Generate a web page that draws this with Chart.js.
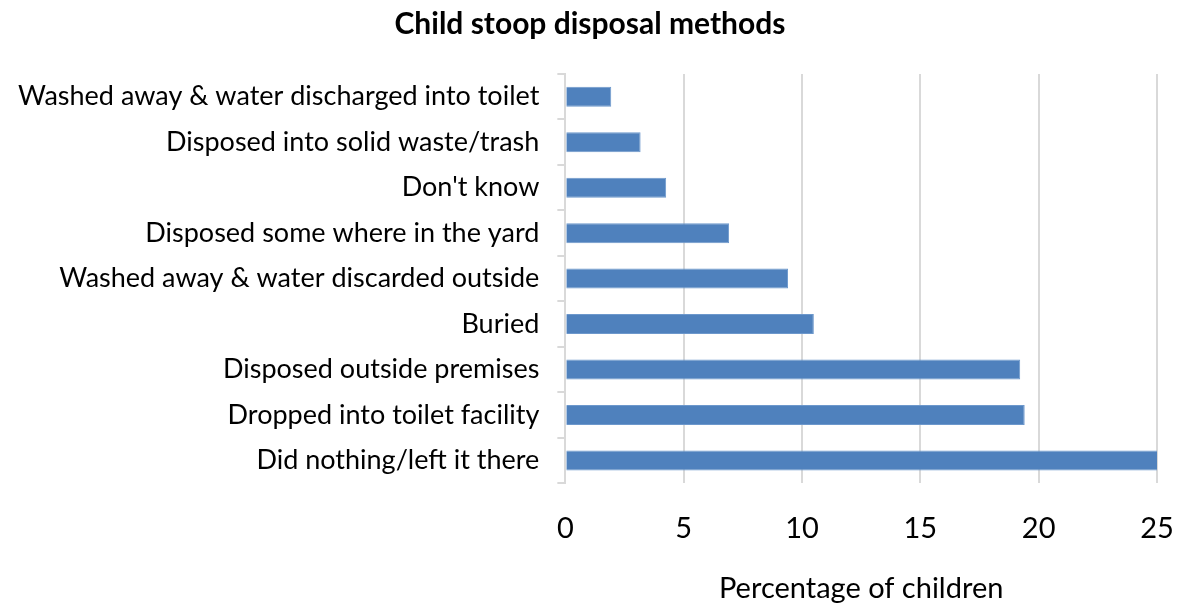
<!DOCTYPE html>
<html>
<head>
<meta charset="utf-8">
<script src="https://cdn.jsdelivr.net/npm/chart.js@4"></script>
<style>
  html, body { margin: 0; padding: 0; background: #fff; }
  #wrap { width: 1180px; height: 608px; }
</style>
</head>
<body>
<div id="wrap"><canvas id="chart" width="1180" height="608"></canvas></div>
<script>
const categories = [
  "Washed away & water discharged into toilet",
  "Disposed into solid waste/trash",
  "Don't know",
  "Disposed some where in the yard",
  "Washed away & water discarded outside",
  "Buried",
  "Disposed outside premises",
  "Dropped into toilet facility",
  "Did nothing/left it there"
];
const percentages = [1.94, 3.18, 4.26, 6.92, 9.41, 10.5, 19.22, 19.41, 25.1];
const xTicks = [0, 5, 10, 15, 20, 25];

const fontFamily = "Lato, 'Open Sans', sans-serif";

new Chart(document.getElementById("chart"), {
  type: "bar",
  data: {
    labels: categories,
    datasets: [{
      data: percentages,
      backgroundColor: "#4f81bd",
      borderColor: "#6d98cc",
      borderWidth: 1,
      barPercentage: 0.44,
      categoryPercentage: 1
    }]
  },
  options: {
    indexAxis: "y",
    responsive: false,
    animation: false,
    layout: { padding: { left: 0, right: 0, top: 4, bottom: 5 } },
    plugins: {
      legend: { display: false },
      tooltip: { enabled: false },
      title: {
        display: true,
        text: "Child stoop disposal methods",
        color: "#000",
        font: { family: fontFamily, size: 30, weight: "bold" },
        padding: { top: 2, bottom: 32 }
      }
    },
    scales: {
      x: {
        min: 0,
        max: 25,
        afterBuildTicks: axis => { axis.ticks = xTicks.map(v => ({ value: v })); },
        // keep the plot edges where the reference has them
        afterFit: axis => { axis.paddingLeft = 0; axis.paddingRight = 23; },
        grid: { color: "#d9d9d9", lineWidth: 2, drawTicks: false },
        border: { display: false },
        ticks: {
          color: "#000",
          font: { family: fontFamily, size: 29 },
          padding: 28,
          maxRotation: 0
        },
        title: {
          display: true,
          text: "Percentage of children",
          color: "#000",
          font: { family: fontFamily, size: 29, lineHeight: 1 },
          padding: { top: 0, bottom: 0 }
        }
      },
      y: {
        grid: { color: "#d9d9d9", lineWidth: 2, drawOnChartArea: false, drawTicks: true, tickLength: 8 },
        border: { display: true, color: "#d9d9d9", width: 2 },
        ticks: {
          color: "#000",
          font: { family: fontFamily, size: 27 },
          padding: 18,
          autoSkip: false
        }
      }
    }
  }
});
</script>
</body>
</html>
